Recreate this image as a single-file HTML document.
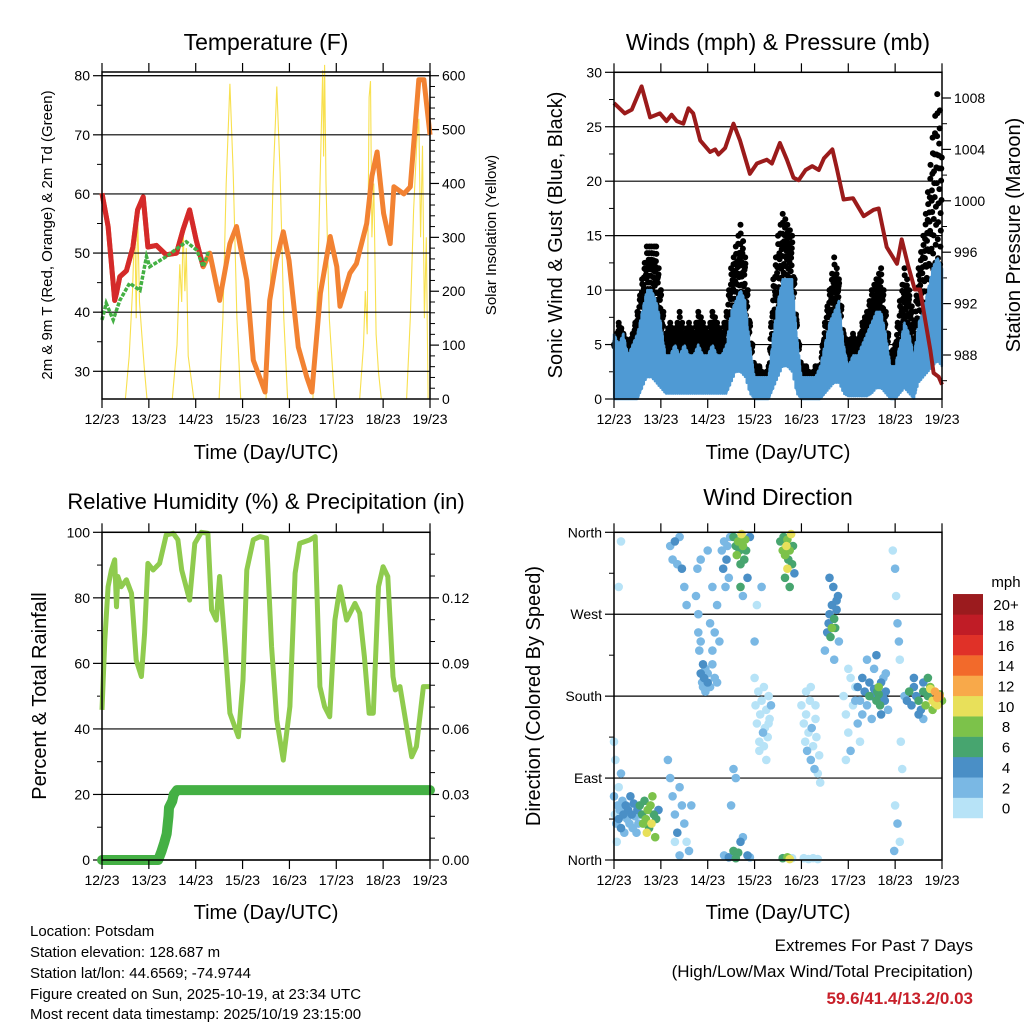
<!DOCTYPE html>
<html><head><meta charset="utf-8"><style>
body{margin:0;background:#fff}
svg{display:block;font-family:"Liberation Sans",Arial,sans-serif}
</style></head><body>
<svg id="s" width="1024" height="1024" viewBox="0 0 1024 1024" xmlns="http://www.w3.org/2000/svg">
<rect width="1024" height="1024" fill="#fff"/>
<g id="g"></g>
<g font-size="15" fill="#000">
<text x="30" y="936">Location: Potsdam</text>
<text x="30" y="957">Station elevation: 128.687 m</text>
<text x="30" y="978">Station lat/lon: 44.6569; -74.9744</text>
<text x="30" y="999">Figure created on Sun, 2025-10-19, at 23:34 UTC</text>
<text x="30" y="1019">Most recent data timestamp: 2025/10/19 23:15:00</text>
</g>
<g text-anchor="end">
<text x="973" y="951" font-size="17">Extremes For Past 7 Days</text>
<text x="973" y="977" font-size="17">(High/Low/Max Wind/Total Precipitation)</text>
<text x="973" y="1004" font-size="17" font-weight="bold" fill="#c8202a">59.6/41.4/13.2/0.03</text>
</g>
</svg>
<script>
// ---------- DATA ----------
const dayLabels=["12/23","13/23","14/23","15/23","16/23","17/23","18/23","19/23"];
// Temperature (F) - 9m orange
const tDays=[0,0.13,0.27,0.31,0.38,0.52,0.66,0.76,0.88,0.98,1.16,1.37,1.59,1.73,1.87,2.01,2.16,2.3,2.51,2.73,2.87,3.09,3.23,3.48,3.58,3.72,3.87,3.99,4.19,4.37,4.48,4.66,4.87,5.01,5.08,5.29,5.43,5.65,5.76,5.87,6.01,6.15,6.23,6.44,6.58,6.76,6.87,7.0];
const tVals=[60.1,54.5,42,43.2,46,47,51,57.3,59.5,51,51.3,49.7,50,54,57.3,52.2,47.7,50,42,51.6,54.5,45.4,31.9,26.5,42,48.8,53.6,48.8,34.1,29,26.5,43.2,52.8,47.7,41,46.6,48.2,55,63,67.1,56.7,51.6,61.2,60,61.2,79.3,79.3,70];
const redEnd=2.25;
// Dewpoint (F)
const tdDays=[0,0.09,0.24,0.38,0.59,0.81,0.95,1.02,1.37,1.8,2.02,2.16,2.27];
const tdVals=[38.7,41.5,38.7,42,44.9,43.7,49.4,47.7,49.4,51.9,50.5,47.7,50.2];
// Solar insolation (W/m2)
const solDays=[0.5,0.58,0.65,0.7,0.73,0.76,0.8,0.85,0.9,0.96,1.5,1.6,1.66,1.7,1.73,1.77,1.8,1.84,1.9,1.96,2.5,2.58,2.65,2.73,2.8,2.88,2.96,3.5,3.58,3.65,3.73,3.8,3.88,3.96,4.5,4.6,4.68,4.71,4.73,4.75,4.78,4.85,4.96,5.5,5.58,5.62,5.66,5.7,5.73,5.76,5.8,5.85,5.9,5.96,6.5,6.58,6.65,6.72,6.76,6.8,6.84,6.88,6.92,6.96,7.0];
const solVals=[0,80,200,330,150,350,180,120,60,0,0,100,250,180,320,200,280,80,40,0,0,150,400,585,420,150,0,0,150,400,580,420,150,0,0,200,500,610,450,620,400,150,0,0,100,200,120,560,590,300,400,120,50,0,0,150,350,480,520,300,470,150,300,0,0];
// Pressure (mb)
const pDays=[0,0.23,0.38,0.59,0.77,0.98,1.12,1.23,1.34,1.48,1.59,1.69,1.84,2.05,2.16,2.23,2.37,2.55,2.69,2.9,3.05,3.26,3.37,3.54,3.69,3.83,3.94,4.09,4.23,4.37,4.48,4.66,4.75,4.9,5.1,5.33,5.54,5.65,5.82,6.04,6.14,6.28,6.42,6.53,6.75,6.82,6.93,7.0];
const pVals=[1007.6,1006.8,1007.1,1008.9,1006.5,1006.8,1006.2,1006.7,1006.2,1006.0,1007.2,1006.8,1004.7,1003.8,1004.0,1003.6,1004.1,1006.0,1004.7,1002.1,1002.9,1003.2,1002.9,1004.5,1003.2,1001.8,1001.6,1002.4,1002.7,1002.4,1003.3,1004.0,1002.6,1000.1,1000.2,998.8,999.3,999.4,996.4,995.1,997.0,994.9,993.1,993.1,988.4,986.6,986.3,985.7];
// Wind (mph) sampled every 0.1 day
const windTop=[6,5,6,4,5,6,8,10,10,9,7,4,4,5,4,5,4,4,5,4,4,5,4,4,5,8,9,10,9,5,2,2,2,2,6,9,11,11,11,6,2,2,2,2,3,5,7,8,9,5,3,4,4,5,6,7,8,8,6,3,3,5,7,6,4,7,8,10,12,13,12];
const windLow=[0,0,0,0,0,0,2,4,4,3,2,1,1,1,1,1,1,1,1,1,1,1,1,1,1,3,5,5,4,1,0,0,0,0,2,4,6,6,5,1,0,0,0,0,0,1,2,3,3,1,0.5,0.5,0.5,0.5,0.5,1,2,2,1,0,0,1,2,1,0,3,4,5,6,7,6];
const gustVals=[5,7,6,5,6,8,11,14,14,14,10,6,7,6,8,6,7,6,8,7,6,8,7,6,8,12,14,16,13,7,3,3,2,3,11,15,17,16,15,7,3,3,2,3,3,7,10,13,11,6,5,6,5,7,8,10,11,12,8,4,5,9,12,10,7,12,15,19,24,28,25];
// Relative humidity (%)
const rhDays=[0,0.06,0.13,0.2,0.27,0.31,0.34,0.41,0.52,0.63,0.73,0.84,0.91,0.98,1.09,1.23,1.37,1.52,1.62,1.7,1.87,1.98,2.12,2.26,2.34,2.44,2.51,2.63,2.73,2.91,3.01,3.09,3.23,3.37,3.51,3.62,3.73,3.87,4.01,4.12,4.22,4.44,4.55,4.65,4.75,4.86,4.97,5.08,5.22,5.4,5.5,5.6,5.7,5.79,5.9,6.0,6.1,6.21,6.26,6.36,6.5,6.61,6.71,6.86,7.0];
const rhVals=[45.8,67,83.4,88.5,91.6,77.3,86.5,83.4,85.5,81.4,61,56,69.2,90.5,88.5,90.5,99.2,99.7,97.7,88.5,79.3,96.6,100,99.7,76.3,73.2,86.5,65,44.8,37.6,54.9,88.5,97.7,98.7,98.2,65,42.7,30.5,46.8,87.5,96.6,97.7,98.7,52.9,46.8,43.7,73.2,83.4,73.2,78.3,75.3,62,44.8,44.8,83.4,89.5,86.5,56,51.9,52.9,40.7,31.5,34.6,52.9,52.9];
// Precipitation (in, cumulative)
const prDays=[0,1.2,1.27,1.33,1.38,1.4,1.42,1.43,1.5,1.53,1.6,7];
const prVals=[0,0,0.004,0.008,0.012,0.016,0.02,0.024,0.027,0.03,0.032,0.032];
// Wind direction observations
const wdDay=[0,0.02,0.05,0.08,0.1,0.12,0.15,0.18,0.2,0.22,0.25,0.28,0.3,0.33,0.35,0.38,0.4,0.42,0.45,0.48,0.5,0.52,0.55,0,0.03,0.06,0.1,0.15,0.15,0.1,
0.55,0.6,0.62,0.65,0.68,0.7,0.72,0.75,0.78,0.8,0.82,0.85,0.88,0.9,0.95,
1.15,1.2,1.25,1.3,1.35,1.4,1.45,1.5,1.55,1.6,1.65,1.2,1.25,1.3,1.35,1.4,1.45,1.5,1.55,1.3,1.4,
1.75,1.8,1.8,1.82,1.85,1.85,1.88,1.9,1.9,1.92,1.95,1.95,2,2,2.05,2.05,2.1,2.1,2.15,2.15,2.2,2.2,2.25,1.78,1.85,2,2.1,
2.3,2.33,2.35,2.38,2.4,2.42,2.45,2.48,
2.55,2.6,2.62,2.65,2.68,2.7,2.72,2.75,2.78,2.8,2.82,2.85,2.9,2.7,2.75,
2.35,2.45,2.55,2.6,2.65,2.7,2.75,2.85,2.9,2.5,2.55,2.6,
3,3.02,3.05,3.08,3.1,3.12,3.15,3.18,3.2,3.22,3.25,3.28,3.3,3.32,3.35,3.05,3.15,3.25,3.1,3.2,3.3,3,
3.55,3.6,3.62,3.65,3.68,3.7,3.72,3.75,3.78,3.8,3.82,3.85,3.65,3.7,3.75,3.6,3.7,3.75,3.8,
4,4.05,4.08,4.1,4.12,4.15,4.18,4.2,4.22,4.25,4.28,4.3,4.32,4.35,4.38,4.4,4.1,4.2,4.3,4.05,4.15,4.25,4.35,
4.5,4.55,4.58,4.6,4.62,4.65,4.68,4.7,4.72,4.75,4.78,4.8,4.6,4.7,4.65,4.75,
4.9,4.95,5,5.05,5.1,5.15,5.2,5.25,4.95,5.05,5.15,5,
5.2,5.25,5.3,5.35,5.4,5.45,5.5,5.55,5.6,5.62,5.65,5.68,5.7,5.72,5.75,5.78,5.8,5.85,5.3,5.4,5.5,5.6,5.7,5.8,5.45,5.55,5.65,5.75,
5.95,6,6.02,6.05,6.08,6.1,6.12,6.15,6,6.05,6.1,5.98,
6.2,6.25,6.3,6.35,6.4,6.45,6.5,6.55,6.6,6.65,6.7,6.75,6.8,6.85,6.9,6.95,7,6.5,6.6,6.7,6.8,6.9,6.75,6.85,6.95,6.4,6.6];
const wdDir=[70,50,40,60,45,55,35,65,50,30,60,45,55,40,70,50,35,62,48,30,55,40,50,130,110,20,80,95,350,300,
60,50,40,65,45,30,55,35,60,40,70,50,25,45,55,
110,90,70,50,30,80,60,40,20,10,60,345,330,350,325,355,320,300,280,20,5,
290,270,250,230,240,205,195,215,190,200,185,210,195,205,190,260,215,230,200,250,280,195,240,320,330,340,300,
340,320,350,300,330,345,310,355,
355,345,335,350,340,325,358,345,330,352,340,310,355,300,290,
5,3,10,2,8,20,25,5,3,60,100,90,
200,170,150,185,130,160,175,140,190,145,165,135,180,155,170,280,300,110,120,125,150,240,
350,340,355,335,345,352,330,340,358,325,345,315,310,320,300,2,3,1,2,
170,150,130,160,120,140,175,110,145,125,100,155,135,95,115,85,185,190,170,2,1,2,1,
230,250,260,270,245,280,300,265,255,275,290,240,310,220,255,285,
180,160,140,120,170,190,150,130,110,200,175,210,
190,175,200,185,170,195,180,210,175,185,190,170,195,180,200,175,185,165,160,220,155,225,160,205,180,188,182,178,
340,320,290,260,240,220,130,100,60,40,20,10,
180,175,185,170,190,180,175,165,185,170,180,190,175,185,170,180,175,160,195,200,165,178,188,172,182,200,155];
const wdSpd=[2,1,2,3,4,3,4,2,4,3,4,2,4,3,4,4,3,4,3,2,4,3,2,0,1,0,1,2,0,1,
6,7,8,6,9,10,8,7,9,10,8,6,9,7,5,
2,3,2,3,4,2,3,2,1,2,3,2,3,4,2,3,4,2,3,1,2,
2,3,2,3,2,4,3,4,3,4,3,2,4,3,2,2,3,2,3,2,2,3,2,3,2,2,3,
3,4,2,3,4,3,2,3,
6,7,8,9,7,6,10,8,7,9,6,5,4,6,3,
3,4,6,7,6,5,3,4,3,2,2,3,
1,0,1,0,1,0,1,2,1,0,1,1,0,1,2,1,2,1,1,1,0,2,
6,8,7,9,10,8,7,9,10,6,7,5,6,10,7,6,9,10,1,
0,1,0,1,2,1,0,2,3,1,2,0,1,0,1,0,1,0,1,1,0,1,0,
3,4,5,4,6,5,4,6,7,4,5,3,4,3,8,4,
1,0,1,2,1,0,2,1,0,1,2,1,
4,3,5,4,3,4,5,3,6,7,8,6,5,4,3,5,4,3,2,3,3,4,4,3,6,5,6,5,
1,2,1,2,3,1,0,1,0,2,1,2,
3,4,6,4,5,4,6,5,7,8,6,9,11,12,10,13,9,4,5,6,8,12,11,10,9,4,3];
const spdColors=["#b7e3f7","#7ab8e4","#4a8fc6","#47a56f","#7cc24a","#e8e05a","#f8a94a","#f26a2b","#e03128","#c01c26","#9b1b1e"];
const spdLabels=["0","2","4","6","8","10","12","14","16","18","20+"];

// ---------- RENDER ----------
const NS="http://www.w3.org/2000/svg";
const root=document.getElementById('g');
function el(tag,attrs,parent,txt){const e=document.createElementNS(NS,tag);for(const k in attrs)e.setAttribute(k,attrs[k]);if(txt!==undefined)e.textContent=txt;(parent||root).appendChild(e);return e;}
function grp(name){const g=el('g',{},root);


return g;}
function lin(d0,d1,p0,p1){return v=>p0+(v-d0)/(d1-d0)*(p1-p0);}
function pathOf(xs,ys,fx,fy){return xs.map((x,i)=>(i?'L':'M')+fx(x).toFixed(1)+','+fy(ys[i]).toFixed(1)).join('');}
function interp(arr,t){const i=Math.min(arr.length-2,Math.floor(t*10));const f=t*10-i;return arr[i]+(arr[i+1]-arr[i])*f;}

function frame(g,x0,x1,y0,y1,fx){
  el('rect',{x:x0,y:y0,width:x1-x0,height:y1-y0,fill:'none',stroke:'#000','stroke-width':1.5},g);
  dayLabels.forEach((l,i)=>{const x=fx(i);
    el('line',{x1:x,x2:x,y1:y0,y2:y0-9,stroke:'#000','stroke-width':1.2},g);
    el('line',{x1:x,x2:x,y1:y1,y2:y1+9,stroke:'#000','stroke-width':1.2},g);
    const t=el('text',{x:x,y:y1+25,'font-size':14,'text-anchor':'middle'},g,l);
    
    
  });
}
function yAxis(g,vals,fy,x,side,fmt,grid,x0,x1,minor){
  vals.forEach(v=>{const y=fy(v);
    el('line',{x1:x,x2:x+(side<0?-9:9),y1:y,y2:y,stroke:'#000','stroke-width':1.2},g);
    if(grid)el('line',{x1:x0,x2:x1,y1:y,y2:y,stroke:'#000','stroke-width':1.2},g);
    const t=el('text',{x:x+(side<0?-12:12),y:y+5,'font-size':14,'text-anchor':side<0?'end':'start'},g,fmt(v));
    
    
  });
  (minor||[]).forEach(v=>{const y=fy(v);el('line',{x1:x,x2:x+(side<0?-5:5),y1:y,y2:y,stroke:'#000','stroke-width':1},g);});
}
function title(g,x,y,txt,size,rot){const a={x:x,y:y,'font-size':size,'text-anchor':'middle'};if(rot)a.transform='rotate(-90 '+x+' '+y+')';return el('text',a,g,txt);}

// ===== Panel 1: Temperature =====
(function(){
  const X0=102,X1=430,Y0=72,Y1=399;
  const fx=lin(0,7,X0,X1), fy=lin(80,30,75.7,371.3), fs=lin(0,600,399,75.7);
  const g=grp('temperature-chart');
  const tt=title(g,266,50,'Temperature (F)',23);
  
  el('line',{x1:X0,x2:X1,y1:75.7,y2:75.7,stroke:'#000','stroke-width':1.2},g);
  const sol=el('path',{d:pathOf(solDays,solVals,fx,fs),fill:'none',stroke:'#f8e04e','stroke-width':1.1},g);
  
  yAxis(g,[30,40,50,60,70,80],fy,X0,-1,v=>v,true,X0,X1,[35,45,55,65,75]);
  yAxis(g,[0,100,200,300,400,500,600],fs,X1,1,v=>v,false,0,0,[20,40,60,80,120,140,160,180,220,240,260,280,320,340,360,380,420,440,460,480,520,540,560,580]);
  const o=el('path',{d:pathOf(tDays,tVals,fx,fy),fill:'none',stroke:'#f28232','stroke-width':5,'stroke-linejoin':'round'},g);
  
  const rd=[],rv=[];tDays.forEach((d,i)=>{if(d<=redEnd){rd.push(d);rv.push(tVals[i]);}});
  const r=el('path',{d:pathOf(rd,rv,fx,fy),fill:'none',stroke:'#d42a2a','stroke-width':5,'stroke-linejoin':'round'},g);
  
  const td=el('path',{d:pathOf(tdDays,tdVals,fx,fy),fill:'none',stroke:'#44b044','stroke-width':3.5,'stroke-dasharray':'4 1.5'},g);
  
  frame(g,X0,X1,Y0,Y1,fx);
  title(g,266,459,'Time (Day/UTC)',20);
  title(g,52,235,'2m & 9m T (Red, Orange) & 2m Td (Green)',15,true);
  title(g,496,235,'Solar Insolation (Yellow)',15,true);
})();

// ===== Panel 2: Winds & Pressure =====
(function(){
  const X0=614,X1=942,Y0=72.3,Y1=399;
  const fx=lin(0,7,X0,X1), fy=lin(0,30,399,72.3), fp=lin(1008,988,98,355);
  const g=grp('winds-pressure-chart');
  title(g,778,50,'Winds (mph) & Pressure (mb)',23);
  yAxis(g,[0,5,10,15,20,25,30],fy,X0,-1,v=>v,true,X0,X1,[2.5,7.5,12.5,17.5,22.5,27.5]);
  yAxis(g,[988,992,996,1000,1004,1008],fp,X1,1,v=>v,false,0,0,[986,990,994,998,1002,1006]);
  const gg=el('g',{fill:'#000'},g);
  
  const fr=[1,0.45,0.8,0.25,0.65,0.9,0.35,0.55,0.15,0.72];
  for(let j=0;j<700;j++){const t=j*0.01;
    const top=interp(windTop,t), gu=interp(gustVals,t);
    for(let k=0;k<2;k++){const f=fr[(j*3+k*5)%10];
      const v=top*0.8+(gu-top*0.8)*f;
      el('circle',{cx:fx(t+k*0.005).toFixed(1),cy:fy(v).toFixed(1),r:3},gg);}
  }
  const pat=[1,0.75,0.95,0.6,0.88,0.7,1,0.8];
  const lpat=[0,0.6,0.2,1,0.4,0.8,0,0.5];
  let d='';
  for(let j=0;j<=1400;j++){const t=j*0.005;
    const top=interp(windTop,t), lo=interp(windLow,t);
    const v=(j%2===0)?top*pat[j%8]:lo*lpat[j%8];
    d+=(j?'L':'M')+fx(t).toFixed(1)+','+fy(v).toFixed(1);}
  const b=el('path',{d:d,fill:'none',stroke:'#4f9ad4','stroke-width':2.5,'stroke-linejoin':'round'},g);
  
  const p=el('path',{d:pathOf(pDays,pVals,fx,fp),fill:'none',stroke:'#9b1b1b','stroke-width':4,'stroke-linejoin':'round'},g);
  
  frame(g,X0,X1,Y0,Y1,fx);
  title(g,778,459,'Time (Day/UTC)',20);
  title(g,562,235,'Sonic Wind & Gust (Blue, Black)',20,true);
  title(g,1020,235,'Station Pressure (Maroon)',20,true);
})();

// ===== Panel 3: RH & Precip =====
(function(){
  const X0=102,X1=430,Y0=532.3,Y1=860;
  const fx=lin(0,7,X0,X1), fy=lin(0,100,860,532.3), fr=lin(0,0.15,860,532.3);
  const g=grp('humidity-precip-chart');
  title(g,266,509,'Relative Humidity (%) & Precipitation (in)',22);
  yAxis(g,[0,20,40,60,80,100],fy,X0,-1,v=>v,true,X0,X1,[10,30,50,70,90]);
  yAxis(g,[0,0.03,0.06,0.09,0.12],fr,X1,1,v=>v.toFixed(2),false,0,0,[0.01,0.02,0.04,0.05,0.07,0.08,0.1,0.11,0.13,0.14]);
  const rh=el('path',{d:pathOf(rhDays,rhVals,fx,fy),fill:'none',stroke:'#8fcb4e','stroke-width':5,'stroke-linejoin':'round'},g);
  
  const pr=el('path',{d:pathOf(prDays,prVals,fx,fr),fill:'none',stroke:'#44b044','stroke-width':10,'stroke-linecap':'round','stroke-linejoin':'round'},g);
  
  frame(g,X0,X1,Y0,Y1,fx);
  title(g,266,919,'Time (Day/UTC)',20);
  title(g,46,696,'Percent & Total Rainfall',20,true);
})();

// ===== Panel 4: Wind direction =====
(function(){
  const X0=614,X1=942,Y0=532.3,Y1=860;
  const fx=lin(0,7,X0,X1), fy=lin(0,360,860,532.3);
  const g=grp('wind-direction-chart');
  title(g,778,505,'Wind Direction',23);
  const names=["North","East","South","West","North"];
  yAxis(g,[0,90,180,270,360],fy,X0,-1,v=>names[v/90],true,X0,X1,[45,135,225,315]);
  const pg=el('g',{},g);
  
  const idx=wdDay.map((_,i)=>i).sort((a,b)=>wdSpd[a]-wdSpd[b]);
  idx.forEach(i=>{const c=spdColors[Math.min(10,Math.floor(wdSpd[i]/2))];
    el('circle',{cx:fx(wdDay[i]).toFixed(1),cy:fy(wdDir[i]).toFixed(1),r:4.3,fill:c},pg);});
  frame(g,X0,X1,Y0,Y1,fx);
  title(g,778,919,'Time (Day/UTC)',20);
  title(g,540,696,'Direction (Colored By Speed)',20,true);
  const cb=grp('speed-colorbar');
  el('text',{x:1006,y:587,'font-size':15,'text-anchor':'middle'},cb,'mph');
  spdColors.forEach((c,i)=>{const y=818-(i+1)*20.36;
    el('rect',{x:953,y:y,width:30,height:20.6,fill:c},cb);
    el('text',{x:1006,y:y+16,'font-size':15,'text-anchor':'middle'},cb,spdLabels[i]);});
})();
</script>
</body></html>
